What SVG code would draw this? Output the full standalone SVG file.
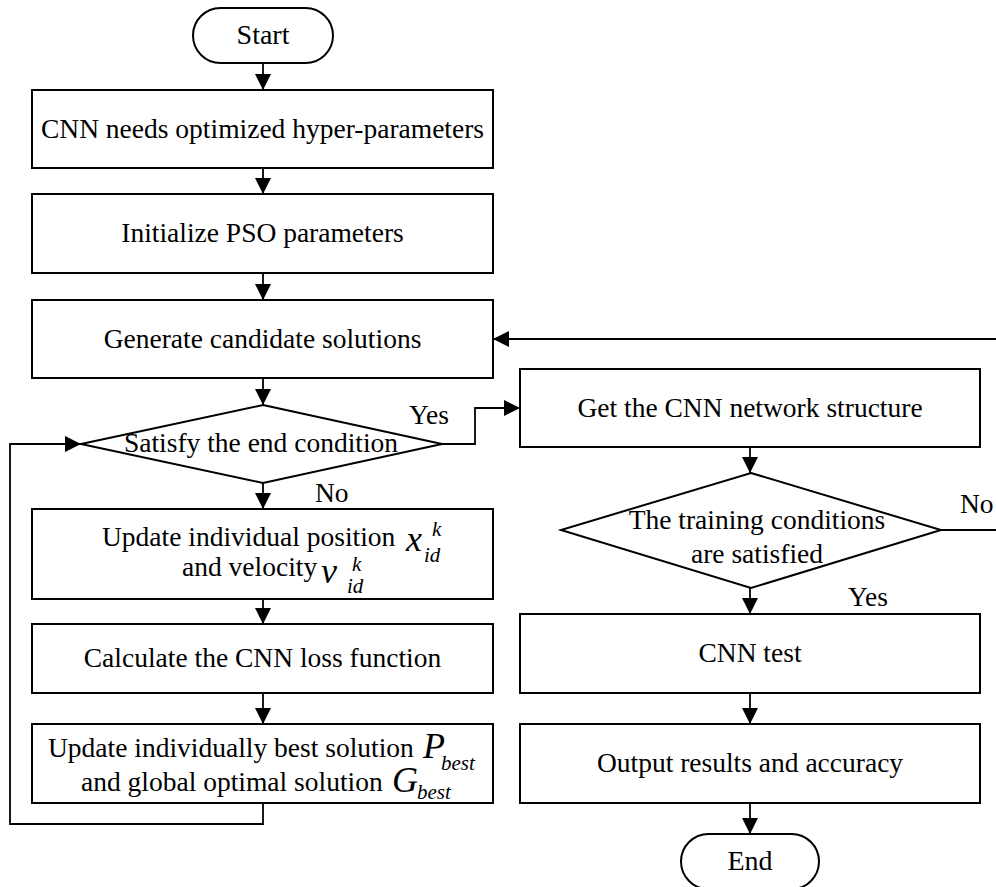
<svg xmlns="http://www.w3.org/2000/svg" width="996" height="887" viewBox="0 0 996 887">
  <defs>
    <marker id="arrow" markerUnits="userSpaceOnUse" markerWidth="16" markerHeight="16" refX="16" refY="8" orient="auto">
      <path d="M0,0 L16,8 L0,16 Z" fill="#000"/>
    </marker>
  </defs>

  <rect width="996" height="887" fill="#fff"/>

  <!-- connectors -->
  <g id="connectors" fill="none" stroke="#000" stroke-width="1.8" marker-end="url(#arrow)">
    <path d="M263,63 V90"/>
    <path d="M263,168 V194"/>
    <path d="M263,273 V300"/>
    <path d="M263,378 V405"/>
    <path d="M263,483 V509"/>
    <path d="M263,599 V624"/>
    <path d="M263,693 V724"/>
    <!-- loop back from best-solution update to the end-condition test -->
    <path d="M263,803 V824 H10 V444 H81"/>
    <!-- Yes branch to the CNN structure -->
    <path d="M442,444 H475 V408 H520"/>
    <path d="M750,447 V473"/>
    <path d="M750,588 V614"/>
    <path d="M750,693 V724"/>
    <path d="M750,803 V834"/>
    <!-- No branch back to candidate generation -->
    <path d="M941,530 H1010 V339 H493"/>
  </g>

  <!-- labels are set at 30px and scaled down to ~27.5px -->
  <!-- left column -->
  <g id="start">
    <rect x="193" y="8" width="140" height="55" rx="27.5" fill="#fff" stroke="#000" stroke-width="2"/>
    <text transform="translate(263,44) scale(0.9333)" font-family="Liberation Serif" font-size="30" text-anchor="middle">Start</text>
  </g>
  <g id="cnn-hyper">
    <rect x="32" y="90" width="461" height="78" fill="#fff" stroke="#000" stroke-width="2"/>
    <text transform="translate(262.5,138) scale(0.9167)" font-family="Liberation Serif" font-size="30" text-anchor="middle">CNN needs optimized hyper-parameters</text>
  </g>
  <g id="init-pso">
    <rect x="32" y="194" width="461" height="79" fill="#fff" stroke="#000" stroke-width="2"/>
    <text transform="translate(262.5,242) scale(0.9167)" font-family="Liberation Serif" font-size="30" text-anchor="middle">Initialize PSO parameters</text>
  </g>
  <g id="generate">
    <rect x="32" y="300" width="461" height="78" fill="#fff" stroke="#000" stroke-width="2"/>
    <text transform="translate(262.5,348) scale(0.9167)" font-family="Liberation Serif" font-size="30" text-anchor="middle">Generate candidate solutions</text>
  </g>
  <g id="end-condition">
    <polygon points="263,405 442,444 263,483 81,444" fill="#fff" stroke="#000" stroke-width="2"/>
    <text transform="translate(261,452) scale(0.9167)" font-family="Liberation Serif" font-size="30" text-anchor="middle">Satisfy the end condition</text>
    <text transform="translate(409,424) scale(0.9167)" font-family="Liberation Serif" font-size="30">Yes</text>
    <text transform="translate(315,502) scale(0.9167)" font-family="Liberation Serif" font-size="30">No</text>
  </g>
  <g id="update-position">
    <rect x="32" y="509" width="461" height="90" fill="#fff" stroke="#000" stroke-width="2"/>
    <text transform="translate(102,546) scale(0.9167)" font-family="Liberation Serif" font-size="30">Update individual position</text>
    <text x="406" y="551" font-family="Liberation Serif" font-size="36" font-style="italic">x</text>
    <text x="432" y="536" font-family="Liberation Serif" font-size="21" font-style="italic">k</text>
    <text x="424" y="562" font-family="Liberation Serif" font-size="21" font-style="italic">id</text>
    <text transform="translate(182,576) scale(0.9167)" font-family="Liberation Serif" font-size="30">and velocity</text>
    <text x="321" y="583" font-family="Liberation Serif" font-size="36" font-style="italic">v</text>
    <text x="352" y="571" font-family="Liberation Serif" font-size="21" font-style="italic">k</text>
    <text x="347" y="593" font-family="Liberation Serif" font-size="21" font-style="italic">id</text>
  </g>
  <g id="loss">
    <rect x="32" y="624" width="461" height="69" fill="#fff" stroke="#000" stroke-width="2"/>
    <text transform="translate(262.5,667) scale(0.9167)" font-family="Liberation Serif" font-size="30" text-anchor="middle">Calculate the CNN loss function</text>
  </g>
  <g id="update-best">
    <rect x="32" y="724" width="461" height="79" fill="#fff" stroke="#000" stroke-width="2"/>
    <text transform="translate(48,757) scale(0.9167)" font-family="Liberation Serif" font-size="30">Update individually best solution</text>
    <text x="423" y="758" font-family="Liberation Serif" font-size="36" font-style="italic">P</text>
    <text x="441" y="770" font-family="Liberation Serif" font-size="21" font-style="italic">best</text>
    <text transform="translate(81,791) scale(0.9167)" font-family="Liberation Serif" font-size="30">and global optimal solution</text>
    <text x="392" y="792" font-family="Liberation Serif" font-size="36" font-style="italic">G</text>
    <text x="417" y="799" font-family="Liberation Serif" font-size="21" font-style="italic">best</text>
  </g>

  <!-- right column -->
  <g id="cnn-structure">
    <rect x="520" y="369" width="460" height="78" fill="#fff" stroke="#000" stroke-width="2"/>
    <text transform="translate(750,417) scale(0.9167)" font-family="Liberation Serif" font-size="30" text-anchor="middle">Get the CNN network structure</text>
  </g>
  <g id="training-condition">
    <polygon points="751,473 941,530 751,588 561,530" fill="#fff" stroke="#000" stroke-width="2"/>
    <text transform="translate(757,529) scale(0.9167)" font-family="Liberation Serif" font-size="30" text-anchor="middle">The training conditions</text>
    <text transform="translate(757,563) scale(0.9167)" font-family="Liberation Serif" font-size="30" text-anchor="middle">are satisfied</text>
    <text transform="translate(960,513) scale(0.9167)" font-family="Liberation Serif" font-size="30">No</text>
    <text transform="translate(848,606) scale(0.9167)" font-family="Liberation Serif" font-size="30">Yes</text>
  </g>
  <g id="cnn-test">
    <rect x="520" y="614" width="460" height="79" fill="#fff" stroke="#000" stroke-width="2"/>
    <text transform="translate(750,662) scale(0.9167)" font-family="Liberation Serif" font-size="30" text-anchor="middle">CNN test</text>
  </g>
  <g id="output">
    <rect x="520" y="724" width="460" height="79" fill="#fff" stroke="#000" stroke-width="2"/>
    <text transform="translate(750,772) scale(0.9167)" font-family="Liberation Serif" font-size="30" text-anchor="middle">Output results and accuracy</text>
  </g>
  <g id="end">
    <rect x="681" y="834" width="138" height="55" rx="27.5" fill="#fff" stroke="#000" stroke-width="2"/>
    <text transform="translate(750,870) scale(0.9333)" font-family="Liberation Serif" font-size="30" text-anchor="middle">End</text>
  </g>
</svg>
